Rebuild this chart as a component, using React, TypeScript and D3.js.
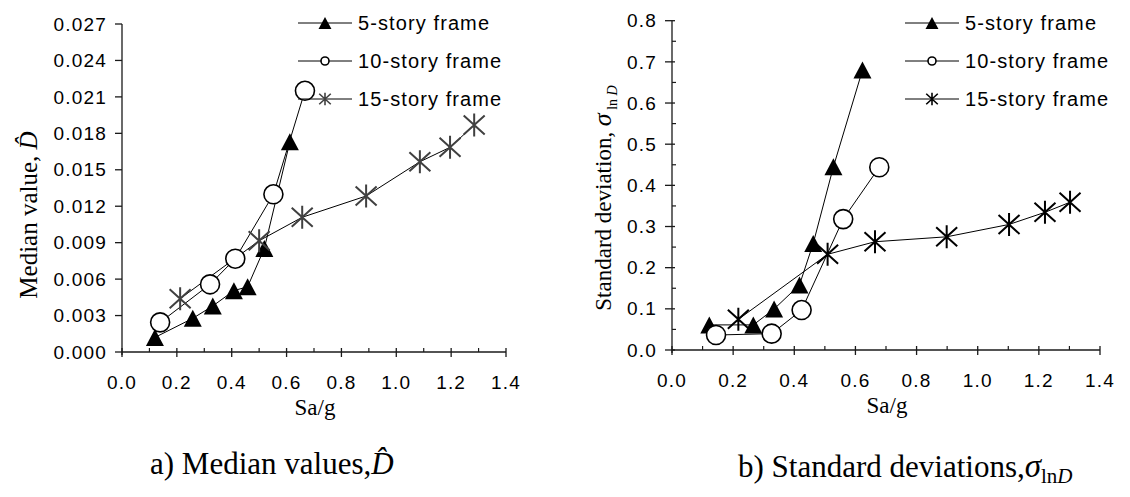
import React from 'react';
import * as d3 from 'd3';

// ---- Data ----
const sa5Med = [0.12, 0.258, 0.331, 0.408, 0.458, 0.519, 0.612];
const med5 = [0.0012, 0.00277, 0.00379, 0.00505, 0.00537, 0.00853, 0.0173];
const sa10Med = [0.139, 0.321, 0.413, 0.552, 0.667];
const med10 = [0.00244, 0.00557, 0.00768, 0.01298, 0.0215];
const sa15Med = [0.212, 0.5, 0.657, 0.89, 1.086, 1.196, 1.284];
const med15 = [0.00439, 0.00916, 0.01109, 0.01284, 0.01566, 0.01685, 0.01868];

const sa5Std = [0.122, 0.266, 0.334, 0.417, 0.462, 0.528, 0.623];
const std5 = [0.061, 0.061, 0.0996, 0.158, 0.259, 0.445, 0.68];
const sa10Std = [0.144, 0.326, 0.424, 0.56, 0.678];
const std10 = [0.0364, 0.0397, 0.097, 0.318, 0.444];
const sa15Std = [0.217, 0.509, 0.664, 0.8985, 1.1025, 1.22, 1.302];
const std15 = [0.0745, 0.2325, 0.263, 0.275, 0.305, 0.3345, 0.359];

const seriesNames = ['5-story frame', '10-story frame', '15-story frame'];
const xTicks = [0, 0.2, 0.4, 0.6, 0.8, 1.0, 1.2, 1.4];
const xMinorTicks = [0.1, 0.3, 0.5, 0.7, 0.9, 1.1, 1.3];
const medTicks = [0, 0.003, 0.006, 0.009, 0.012, 0.015, 0.018, 0.021, 0.024, 0.027];
const stdTicks = [0, 0.1, 0.2, 0.3, 0.4, 0.5, 0.6, 0.7, 0.8];
const stdMinorTicks = [0.05, 0.15, 0.25, 0.35, 0.45, 0.55, 0.65, 0.75];

const SANS = '"Liberation Sans", Arial, sans-serif';
const SERIF = '"Liberation Serif", "Times New Roman", serif';

type Kind = 'tri' | 'circ' | 'star';

function Marker({ kind, x, y, s, color }: { kind: Kind; x: number; y: number; s: number; color: string }) {
  if (kind === 'tri') {
    const w = 9 * s, h = 8.5 * s;
    return <path d={`M${x},${y - h}L${x + w},${y + h}L${x - w},${y + h}Z`} fill="#000" stroke="none" />;
  }
  if (kind === 'circ') {
    return <circle cx={x} cy={y} r={9.5 * s} fill="#fff" stroke="#000" strokeWidth={1.6} />;
  }
  const v = 11.5 * s, dx = 10.5 * s, dy = 9.5 * s;
  return (
    <path
      d={`M${x},${y - v}L${x},${y + v}M${x - dx},${y - dy}L${x + dx},${y + dy}M${x + dx},${y - dy}L${x - dx},${y + dy}`}
      stroke={color}
      strokeWidth={s < 1 ? 1.6 : 2}
      fill="none"
    />
  );
}

type Series = { xs: number[]; ys: number[]; kind: Kind };

function Panel(props: {
  left: number; right: number; top: number; bottom: number;
  yTicks: number[]; yMinor: number[]; yFmt: (v: number) => string;
  series: Series[]; starColor: string; legX: number; legY: number[];
  labelGap: number;
}) {
  const { left, right, top, bottom, yTicks, yMinor, yFmt, series, starColor, legX, legY, labelGap } = props;
  const x = d3.scaleLinear().domain([0, 1.4]).range([left, right]);
  const yMax = yTicks[yTicks.length - 1];
  const y = d3.scaleLinear().domain([0, yMax]).range([bottom, top]);
  const line = d3.line<[number, number]>().x(d => x(d[0])).y(d => y(d[1]));
  const fx = d3.format('.1f');
  const ax = '#1a1a1a';
  return (
    <g>
      {/* y axis */}
      <line x1={left} x2={left} y1={y(yMax)} y2={bottom + 3} stroke={ax} strokeWidth={1.3} />
      {yTicks.map(t => (
        <g key={'yt' + t}>
          <line x1={left - 7} x2={left + (yMinor.length ? 3 : 0)} y1={y(t)} y2={y(t)} stroke={ax} strokeWidth={1.3} />
          <text x={left - labelGap} y={y(t)} dy="0.35em" textAnchor="end" fontFamily={SANS} fontSize={19} letterSpacing={1.2} fill="#000">
            {yFmt(t)}
          </text>
        </g>
      ))}
      {yMinor.map(t => (
        <line key={'ym' + t} x1={left} x2={left + 4} y1={y(t)} y2={y(t)} stroke={ax} strokeWidth={1.2} />
      ))}
      {/* x axis */}
      <line x1={left} x2={right} y1={bottom} y2={bottom} stroke={ax} strokeWidth={1.3} />
      {xTicks.map(t => (
        <g key={'xt' + t}>
          <line x1={x(t)} x2={x(t)} y1={bottom - 4} y2={bottom + 5} stroke={ax} strokeWidth={1.3} />
          <text x={x(t)} y={bottom + 30} dy="0.35em" textAnchor="middle" fontFamily={SANS} fontSize={19} letterSpacing={1.2} fill="#000">
            {fx(t)}
          </text>
        </g>
      ))}
      {xMinorTicks.map(t => (
        <line key={'xm' + t} x1={x(t)} x2={x(t)} y1={bottom - 4} y2={bottom} stroke={ax} strokeWidth={1.2} />
      ))}
      <text x={(left + right) / 2 + 1} y={bottom + 63} textAnchor="middle" fontFamily={SERIF} fontSize={23} fill="#000">
        Sa/g
      </text>
      {/* lines */}
      {series.map((s, i) => (
        <path key={'l' + i} d={line(s.xs.map((v, j) => [v, s.ys[j]] as [number, number])) || ''} fill="none" stroke="#000" strokeWidth={1} />
      ))}
      {/* markers */}
      {series.map((s, i) => (
        <g key={'m' + i}>
          {s.xs.map((v, j) => (
            <Marker key={j} kind={s.kind} x={x(v)} y={y(s.ys[j])} s={1} color={starColor} />
          ))}
        </g>
      ))}
      {/* legend */}
      {series.map((s, i) => (
        <g key={'lg' + i}>
          <line x1={legX} x2={legX + 54} y1={legY[i]} y2={legY[i]} stroke="#000" strokeWidth={1} />
          <Marker kind={s.kind} x={legX + 27} y={legY[i]} s={s.kind === 'circ' ? 0.42 : s.kind === 'tri' ? 0.72 : 0.55} color={starColor} />
          <text x={legX + 60} y={legY[i]} dy="0.35em" fontFamily={SANS} fontSize={20} letterSpacing={1.1} fill="#000">
            {seriesNames[i]}
          </text>
        </g>
      ))}
    </g>
  );
}

export default function App() {
  const medSeries: Series[] = [
    { xs: sa5Med, ys: med5, kind: 'tri' },
    { xs: sa10Med, ys: med10, kind: 'circ' },
    { xs: sa15Med, ys: med15, kind: 'star' },
  ];
  const stdSeries: Series[] = [
    { xs: sa5Std, ys: std5, kind: 'tri' },
    { xs: sa10Std, ys: std10, kind: 'circ' },
    { xs: sa15Std, ys: std15, kind: 'star' },
  ];
  return (
    <div style={{ position: 'absolute', left: 0, top: 0 }}>
      <svg width={1130} height={497} style={{ display: 'block', background: '#fff' }}>
        <rect width={1130} height={497} fill="#fff" />
        <Panel
          left={122} right={506} top={24} bottom={352}
          yTicks={medTicks} yMinor={[]} yFmt={d3.format('.3f')}
          series={medSeries} starColor="#404040" legX={298} legY={[23, 61, 99]} labelGap={15}
        />
        <Panel
          left={672} right={1100} top={20.7} bottom={350}
          yTicks={stdTicks} yMinor={stdMinorTicks} yFmt={d3.format('.1f')}
          series={stdSeries} starColor="#000" legX={905} legY={[23, 61, 99]} labelGap={15}
        />
        {/* y titles */}
        <text transform="translate(37,215) rotate(-90)" textAnchor="middle" fontFamily={SERIF} fontSize={25} fill="#000">
          Median value, <tspan fontStyle="italic">D̂</tspan>
        </text>
        <text transform="translate(611,198) rotate(-90)" textAnchor="middle" fontFamily={SERIF} fontSize={23} fill="#000">
          Standard deviation, <tspan fontStyle="italic" fontSize={26}>σ</tspan>
          <tspan fontSize={14} dy={6}> ln </tspan>
          <tspan fontSize={14} fontStyle="italic">D</tspan>
        </text>
        {/* captions */}
        <text x={150} y={474} fontFamily={SERIF} fontSize={31} fill="#000">
          a) Median values,<tspan fontStyle="italic">D̂</tspan>
        </text>
        <text x={738} y={477} fontFamily={SERIF} fontSize={31} fill="#000">
          b) Standard deviations,<tspan fontStyle="italic" fontSize={33}>σ</tspan>
          <tspan fontSize={21} dy={6}>ln</tspan>
          <tspan fontSize={21} fontStyle="italic">D</tspan>
        </text>
      </svg>
    </div>
  );
}
